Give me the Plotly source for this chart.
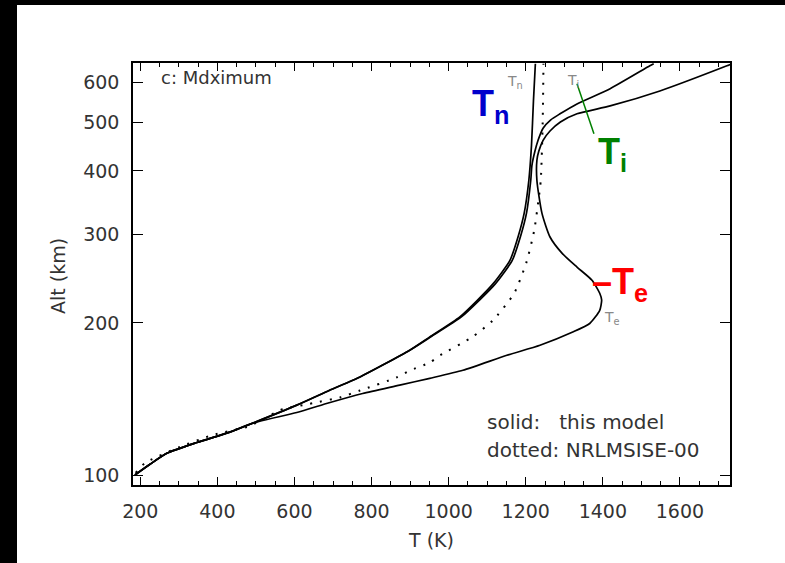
import plotly.graph_objects as go

# ---------------- data ----------------
tn_alt = [100, 105, 110.5, 116, 121.6, 126.7, 137.5, 147, 156.4, 166, 176.6, 187.6,
          205.6, 222, 239, 266, 296, 330, 383, 450, 550, 652]
tn_T = [186, 225, 270, 347, 432, 492, 606, 690, 770, 835, 899, 951,
        1029, 1075, 1115, 1159, 1180, 1196, 1208, 1215, 1220, 1225]

ti_alt = [100, 105, 110.5, 116, 121.6, 126.7, 137.5, 147, 156.4, 166, 176.6, 187.6,
          205.6, 222, 239, 266, 296, 330, 383, 410, 438, 460, 486, 505, 519, 543,
          582, 646, 652]
ti_T = [186, 225, 270, 347, 432, 492, 606, 690, 770, 835, 899, 953,
        1033, 1080, 1121, 1165, 1186, 1202, 1213, 1216, 1224, 1232, 1245, 1265, 1289, 1333,
        1419, 1522, 1532]

te_alt = [100, 105, 110.5, 116, 121.6, 126.7, 133, 139, 145, 150.6, 155.4, 161.2,
          172.6, 180.7, 191.9, 199.5, 211.9, 222, 229, 243, 258, 275, 296, 330, 383,
          420, 438, 460, 480, 500, 519, 538, 576, 646, 652]
te_T = [186, 225, 270, 347, 432, 492, 606, 690, 777, 873, 951, 1037,
        1151, 1237, 1322, 1366, 1392, 1397, 1392, 1372, 1333, 1294, 1263, 1242, 1229,
        1229, 1234, 1245, 1263, 1290, 1333, 1419, 1548, 1722, 1735]

msis_alt = [101, 105.6, 113.6, 120, 124.5, 129, 134.4, 138.8, 142.6, 147, 156, 161,
            167, 172.6, 188, 202.5, 229, 264, 305, 350, 383, 500, 652]
msis_T = [188, 212, 302, 388, 476, 520, 562, 648, 720, 770, 865, 899,
          951, 978, 1063, 1115, 1170, 1202, 1222, 1233, 1239, 1244, 1246]

x_ticks = [200, 400, 600, 800, 1000, 1200, 1400, 1600]
y_ticks = [100, 200, 300, 400, 500, 600]

# Ti pointer line end points (T, alt)
ti_ptr_T = [1333, 1377]
ti_ptr_alt = [595, 474]

# ---------------- layout geometry (pixels) ----------------
W, H = 785, 563
L, R, T_, B = 133, 730, 63, 485


def px(x):
    return (x - L) / (R - L)


def py(y):
    return (B - y) / (B - T_)


fig = go.Figure()

solid = dict(color="black", width=1.7)
for xs, ys, nm in [(tn_T, tn_alt, "Tn"), (ti_T, ti_alt, "Ti"), (te_T, te_alt, "Te")]:
    fig.add_trace(go.Scatter(x=xs, y=ys, mode="lines", name=nm,
                             line=dict(shape="spline", smoothing=0.6, **solid),
                             hoverinfo="skip", showlegend=False))

fig.add_trace(go.Scatter(x=msis_T, y=msis_alt, mode="lines", name="NRLMSISE-00",
                         line=dict(color="black", width=2, dash="2px,8px",
                                   shape="spline", smoothing=0.6),
                         hoverinfo="skip", showlegend=False))

fig.add_trace(go.Scatter(x=ti_ptr_T, y=ti_ptr_alt, mode="lines",
                         line=dict(color="#008000", width=1.5),
                         hoverinfo="skip", showlegend=False))

tickfont = dict(family="DejaVu Sans", size=19, color="#333333")
fig.update_xaxes(range=[181, 1730], tickvals=x_ticks, ticks="inside", ticklen=8,
                 tickwidth=1.2, tickcolor="black", showline=True, linecolor="black",
                 linewidth=1.5, mirror="ticks", showgrid=False, zeroline=False,
                 tickfont=tickfont, ticklabelstandoff=8,
                 minor=dict(dtick=50, tick0=0, ticks="inside", ticklen=4,
                            tickcolor="black", tickwidth=1.2, showgrid=False))
fig.update_yaxes(type="log", range=[1.9802, 2.8158], tickvals=y_ticks,
                 ticktext=[str(v) for v in y_ticks], ticks="inside", ticklen=10,
                 tickwidth=1.2, tickcolor="black", showline=True, linecolor="black",
                 linewidth=1.5, mirror="ticks", showgrid=False, zeroline=False,
                 tickfont=tickfont, ticklabelstandoff=8)

ann = []


def add_text(text, x, y, size, color="#333333", family="DejaVu Sans", xanchor="left",
             yanchor="middle", textangle=0):
    ann.append(dict(text=text, x=px(x), y=py(y), xref="paper", yref="paper",
                    xanchor=xanchor, yanchor=yanchor, showarrow=False, textangle=textangle,
                    font=dict(family=family, size=size, color=color)))


add_text("c: Mdximum", 159, 78, 18)
add_text("T<sub>n</sub>", 505, 82, 14, color="#888888")
add_text("T<sub>i</sub>", 565, 81, 14, color="#888888")
add_text("T<sub>e</sub>", 602, 318, 14, color="#888888")
add_text("<b>T<sub>n</sub></b>", 470, 106, 36, color="#0000CC", family="Liberation Sans")
add_text("<b>T<sub>i</sub></b>", 596, 154, 36, color="#008000", family="Liberation Sans")
add_text("<b>–T<sub>e</sub></b>", 590, 284, 36, color="#FF0000", family="Liberation Sans")
add_text("solid:\u00a0\u00a0\u00a0this model", 485, 422, 20)
add_text("dotted: NRLMSISE-00", 485, 450, 20)
add_text("T\u00a0(K)", 431, 540, 19, xanchor="center")
add_text("Alt\u00a0(km)", 58, 276, 19, xanchor="center", textangle=-90)

shapes = [
    dict(type="rect", xref="paper", yref="paper", x0=px(0), x1=px(17), y0=py(H), y1=py(0),
         fillcolor="black", line=dict(width=0), layer="above"),
    dict(type="rect", xref="paper", yref="paper", x0=px(0), x1=px(W), y0=py(5), y1=py(0),
         fillcolor="black", line=dict(width=0), layer="above"),
]

fig.update_layout(width=W, height=H, margin=dict(l=L, r=W - R, t=T_, b=H - B),
                  paper_bgcolor="white", plot_bgcolor="white",
                  annotations=ann, shapes=shapes, showlegend=False)

fig.write_html("out.html", config={"displayModeBar": False},
               post_script="document.body.style.margin='0';document.body.style.padding='0';")
